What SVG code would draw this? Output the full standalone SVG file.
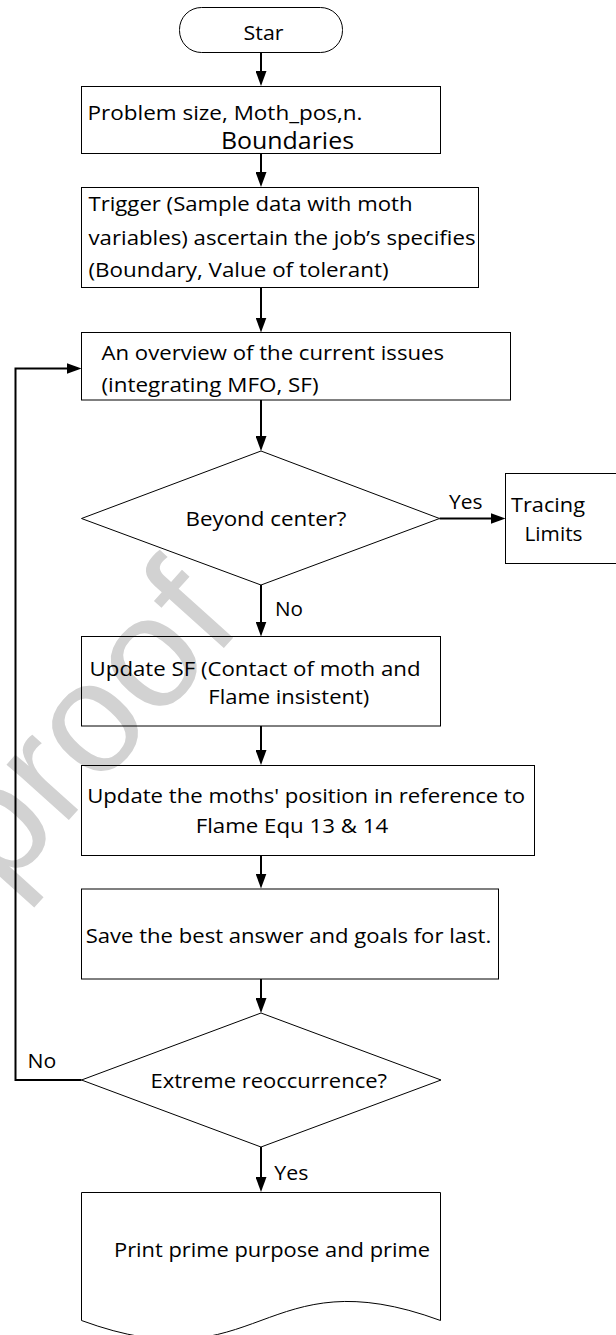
<svg xmlns="http://www.w3.org/2000/svg" width="616" height="1335" viewBox="0 0 616 1335">
<style>
.bg{fill:#ffffff}
.wm{font-family:"Liberation Sans",Arial,sans-serif;font-size:158px;fill:#d2d2d2}
.shape{fill:none;stroke:#000000;stroke-width:1}
.conn{fill:none;stroke:#000000;stroke-width:2}
.t{font-family:"Open Sans","Noto Sans",sans-serif;font-size:20px;fill:#000000}
.big{font-size:23px}
</style>
<defs>
<marker id="ah" markerUnits="userSpaceOnUse" markerWidth="15" markerHeight="11" refX="11" refY="5.5" orient="auto">
<path d="M0,0 L15,5.5 L0,11 z" fill="#000000"/>
</marker>
</defs>
<rect class="bg" x="0" y="0" width="616" height="1335"/>
<text class="wm" x="-32.4" y="932.7" transform="rotate(-48 -32.4 932.7)">-proof</text>

<g id="start">
<rect class="shape" x="179.5" y="7.5" width="163" height="45" rx="22" ry="22"/>
<text class="t" x="243.6" y="39.5" textLength="40" lengthAdjust="spacingAndGlyphs">Star</text>
</g>

<g id="problem">
<rect class="shape" x="81.5" y="86.5" width="359" height="67"/>
<text class="t" x="87.5" y="120" textLength="275" lengthAdjust="spacingAndGlyphs">Problem size, Moth_pos,n.</text>
<text class="t big" x="221" y="149" textLength="133" lengthAdjust="spacingAndGlyphs">Boundaries</text>
</g>

<g id="trigger">
<rect class="shape" x="81.5" y="187.5" width="397" height="100"/>
<text class="t" x="88.5" y="211" textLength="324" lengthAdjust="spacingAndGlyphs">Trigger (Sample data with moth</text>
<text class="t" x="88.5" y="245" textLength="387" lengthAdjust="spacingAndGlyphs">variables) ascertain the job’s specifies</text>
<text class="t" x="88.5" y="277" textLength="300" lengthAdjust="spacingAndGlyphs">(Boundary, Value of tolerant)</text>
</g>

<g id="overview">
<rect class="shape" x="81.5" y="332.5" width="429" height="67.5"/>
<text class="t" x="101.5" y="360" textLength="342.5" lengthAdjust="spacingAndGlyphs">An overview of the current issues</text>
<text class="t" x="101.5" y="392" textLength="217" lengthAdjust="spacingAndGlyphs">(integrating MFO, SF)</text>
</g>

<g id="beyond">
<polygon class="shape" points="261,451 439.5,518.5 261,585 81.5,518.5"/>
<text class="t" x="185.5" y="526" textLength="161" lengthAdjust="spacingAndGlyphs">Beyond center?</text>
</g>

<g id="tracing">
<rect class="shape" x="505.5" y="473.5" width="120" height="90"/>
<text class="t" x="511" y="512" textLength="74" lengthAdjust="spacingAndGlyphs">Tracing</text>
<text class="t" x="524.5" y="541" textLength="58" lengthAdjust="spacingAndGlyphs">Limits</text>
</g>

<g id="updateSF">
<rect class="shape" x="81.5" y="636.5" width="359" height="89.5"/>
<text class="t" x="89.6" y="676" textLength="331" lengthAdjust="spacingAndGlyphs">Update SF (Contact of moth and</text>
<text class="t" x="208.3" y="704" textLength="161" lengthAdjust="spacingAndGlyphs">Flame insistent)</text>
</g>

<g id="updatePos">
<rect class="shape" x="81.5" y="765.5" width="453" height="90"/>
<text class="t" x="87.2" y="803.3" textLength="438" lengthAdjust="spacingAndGlyphs">Update the moths' position in reference to</text>
<text class="t" x="195.7" y="833.3" textLength="192.5" lengthAdjust="spacingAndGlyphs">Flame Equ 13 &amp; 14</text>
</g>

<g id="save">
<rect class="shape" x="81.5" y="889" width="417" height="90"/>
<text class="t" x="85.7" y="943.3" textLength="405.5" lengthAdjust="spacingAndGlyphs">Save the best answer and goals for last.</text>
</g>

<g id="extreme">
<polygon class="shape" points="261,1013 441,1080 261,1147 81.5,1080"/>
<text class="t" x="150.5" y="1087.5" textLength="236.5" lengthAdjust="spacingAndGlyphs">Extreme reoccurrence?</text>
</g>

<g id="print">
<path class="shape" d="M81.5,1192.5 H440.5 V1320.5 C261,1254.5 261,1386.5 81.5,1320.5 Z"/>
<text class="t" x="114" y="1256.7" textLength="316" lengthAdjust="spacingAndGlyphs">Print prime purpose and prime</text>
</g>

<g id="connectors">
<path class="conn" d="M261,52.5 V82" marker-end="url(#ah)"/>
<path class="conn" d="M261,153.5 V183" marker-end="url(#ah)"/>
<path class="conn" d="M261,287.5 V328.5" marker-end="url(#ah)"/>
<path class="conn" d="M261,400 V447" marker-end="url(#ah)"/>
<path class="conn" d="M439.5,518.5 H501.5" marker-end="url(#ah)"/>
<path class="conn" d="M261,585 V632.5" marker-end="url(#ah)"/>
<path class="conn" d="M261,726 V761" marker-end="url(#ah)"/>
<path class="conn" d="M261,855.5 V884.5" marker-end="url(#ah)"/>
<path class="conn" d="M261,979 V1009" marker-end="url(#ah)"/>
<path class="conn" d="M81.5,1080 H15.5 V368.5 H77.5" marker-end="url(#ah)"/>
<path class="conn" d="M261,1147 V1188" marker-end="url(#ah)"/>
<text class="t" x="449" y="509" textLength="33.5" lengthAdjust="spacingAndGlyphs">Yes</text>
<text class="t" x="275" y="615.5" textLength="28" lengthAdjust="spacingAndGlyphs">No</text>
<text class="t" x="27.5" y="1067.5" textLength="28.7" lengthAdjust="spacingAndGlyphs">No</text>
<text class="t" x="274.3" y="1179.5" textLength="34" lengthAdjust="spacingAndGlyphs">Yes</text>
</g>
</svg>
